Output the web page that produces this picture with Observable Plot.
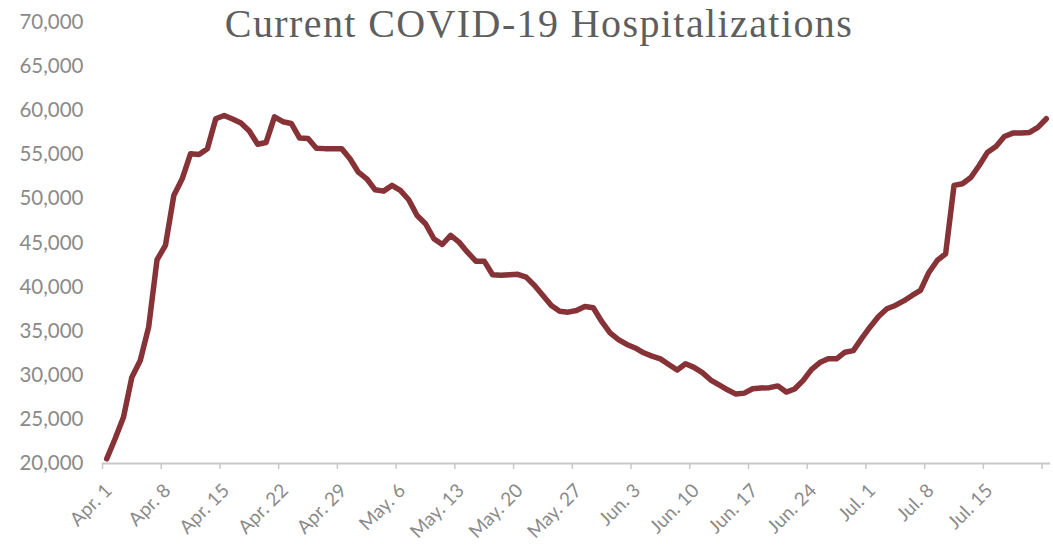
<!DOCTYPE html>
<html><head><meta charset="utf-8">
<script src="https://cdn.jsdelivr.net/npm/d3@7"></script>
<script src="https://cdn.jsdelivr.net/npm/@observablehq/plot@0.6"></script>
<style>
html,body{margin:0;padding:0;background:#fff;}
#wrap{position:relative;width:1053px;height:546px;overflow:hidden;}
#title{position:absolute;left:0;top:0px;width:1078px;text-align:center;font-family:"Liberation Serif",serif;font-size:40px;color:#5e5e5e;letter-spacing:1.4px;white-space:nowrap;z-index:2;}
</style></head><body>
<div id="wrap"><div id="title">Current COVID-19 Hospitalizations</div></div>
<script>
const title = "Current COVID-19 Hospitalizations";
const startDate = "2020-04-01";
const endDate = "2020-07-23";
const hospitalizations = [
  20530, 22800, 25250, 29790, 31680, 35460, 43100, 44720, 50390, 52280,
  55120, 55040, 55690, 59090, 59460, 59050, 58600, 57700, 56200, 56400,
  59300, 58750, 58550, 56900, 56850, 55750, 55700, 55700, 55700, 54550,
  53030, 52280, 51030, 50880, 51530, 50960, 49900, 48120, 47180, 45480,
  44830, 45860, 45100, 43960, 42940, 42940, 41400, 41350, 41400, 41450,
  41130, 40190, 39050, 37920, 37270, 37160, 37350, 37800, 37660, 36100,
  34800, 34050, 33500, 33100, 32550, 32180, 31860, 31230, 30600, 31300,
  30900, 30300, 29460, 28910, 28360, 27870, 27980, 28480, 28570, 28600,
  28800, 28100, 28450, 29400, 30650, 31440, 31870, 31870, 32620, 32800,
  34180, 35480, 36670, 37540, 37920, 38430, 39050, 39620, 41660, 43020,
  43780, 51530, 51720, 52430, 53790, 55300, 55950, 57080, 57460, 57460,
  57540, 58100, 59090
];
const tickLabels = ["Apr. 1","Apr. 8","Apr. 15","Apr. 22","Apr. 29","May. 6","May. 13","May. 20",
  "May. 27","Jun. 3","Jun. 10","Jun. 17","Jun. 24","Jul. 1","Jul. 8","Jul. 15"];
const yTicks = [20000,25000,30000,35000,40000,45000,50000,55000,60000,65000,70000];

const start = new Date(startDate + "T00:00Z");
const end = new Date(endDate + "T00:00Z");
const data = hospitalizations.map((v, i) => ({
  date: d3.utcHour.offset(d3.utcDay.offset(start, i), 12),
  value: v
}));
const weekTicks = d3.range(0, 17).map(k => d3.utcDay.offset(start, 7 * k));
const labelTicks = tickLabels.map((t, k) => d3.utcHour.offset(d3.utcDay.offset(start, 7 * k), 12));
const labelByTime = new Map(labelTicks.map((d, k) => [+d, tickLabels[k]]));

const gray = "#8a8a8a";
const chart = Plot.plot({
  width: 1053,
  height: 546,
  marginTop: 22,
  marginBottom: 83,
  marginLeft: 102,
  marginRight: 3,
  style: {fontFamily: "Lato, sans-serif", background: "#fff", color: gray, overflow: "visible"},
  x: {type: "utc", domain: [start, end], axis: null},
  y: {domain: [20000, 70000], axis: null},
  marks: [
    Plot.axisY(yTicks, {label: null, tickSize: 0, tickPadding: 19, tickFormat: d3.format(","), fontSize: 20.5, fill: gray}),
    Plot.ruleY([20000], {stroke: "#c8c8c8", strokeWidth: 2}),
    Plot.axisX(weekTicks, {label: null, tickSize: 6, tickFormat: () => "", stroke: "#c8c8c8", strokeWidth: 1.5}),
    Plot.axisX(labelTicks, {label: null, tickSize: 0, tickPadding: 24, dx: 2, tickRotate: -45, tickFormat: d => labelByTime.get(+d), fontSize: 19, fill: gray}),
    Plot.line(data, {x: "date", y: "value", stroke: "#863237", strokeWidth: 5.5, strokeLinejoin: "round", strokeLinecap: "round"})
  ]
});
document.getElementById("wrap").appendChild(chart);
</script>
</body></html>
